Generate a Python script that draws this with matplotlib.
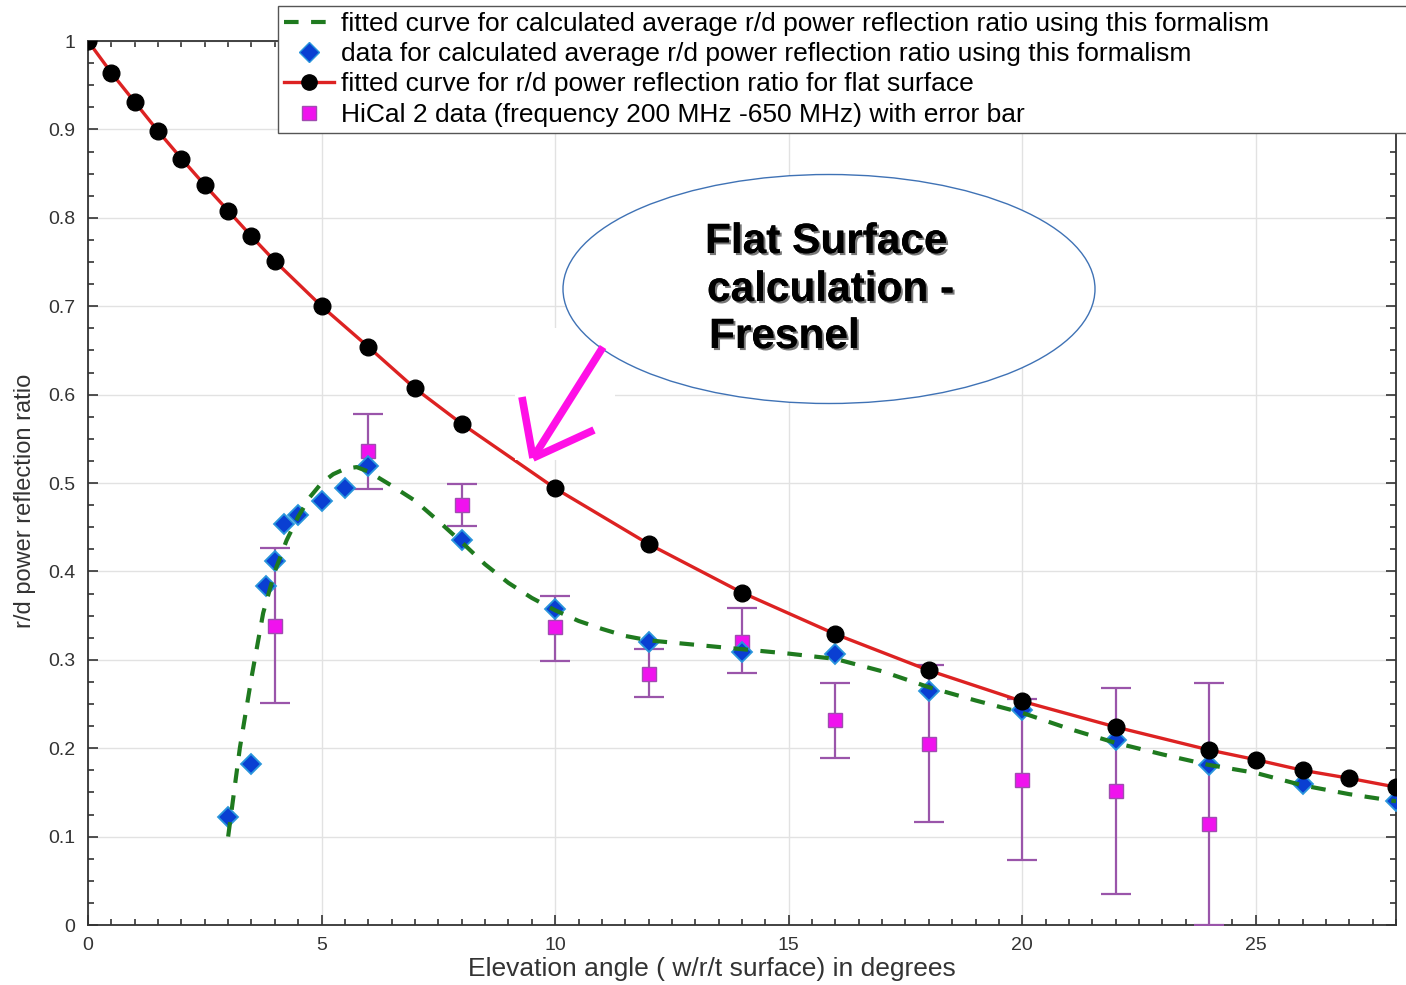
import matplotlib
matplotlib.use('Agg')
import matplotlib.pyplot as plt
import matplotlib.patheffects as pe
from matplotlib.patches import Ellipse, Rectangle
from matplotlib.lines import Line2D
from matplotlib.ticker import MultipleLocator

plt.rcParams['font.family'] = ['Liberation Sans', 'DejaVu Sans']

# ----- Data -----

# flat surface (Fresnel) curve, black points on red line
flat_x = [0, 0.5, 1, 1.5, 2, 2.5, 3, 3.5, 4, 5, 6, 7, 8, 10, 12, 14, 16, 18,
          20, 22, 24, 25, 26, 27, 28]
flat_y = [1.0, 0.964, 0.931, 0.898, 0.867, 0.837, 0.808, 0.779, 0.751, 0.700,
          0.654, 0.607, 0.567, 0.494, 0.431, 0.376, 0.329, 0.288, 0.253, 0.224,
          0.198, 0.187, 0.175, 0.166, 0.156]

# calculated average ratio (blue diamonds)
calc_x = [3.0, 3.5, 3.8, 4.0, 4.2, 4.5, 5.0, 5.5, 6.0, 8, 10, 12, 14, 16, 18,
          20, 22, 24, 26, 28]
calc_y = [0.122, 0.182, 0.383, 0.412, 0.454, 0.464, 0.480, 0.494, 0.519, 0.436,
          0.357, 0.320, 0.309, 0.306, 0.265, 0.243, 0.209, 0.181, 0.160, 0.140]

# fitted curve for the calculated ratio (green dashed)
fit_x = [3.0, 3.25, 3.5, 3.75, 4.0, 4.25, 4.5, 4.75, 5.0, 5.25, 5.5, 5.75, 6.0,
         6.5, 7.0, 7.5, 8.0, 8.5, 9.0, 9.5, 10.0, 10.5, 11.0, 11.5, 12.0, 13.0,
         14.0, 15.0, 16.0, 17.0, 18.0, 19.0, 20.0, 21.0, 22.0, 23.0, 24.0, 25.0,
         26.0, 27.0, 28.0]
fit_y = [0.100, 0.200, 0.280, 0.353, 0.400, 0.435, 0.462, 0.484, 0.500, 0.510,
         0.516, 0.518, 0.513, 0.497, 0.480, 0.457, 0.433, 0.408, 0.387, 0.370,
         0.356, 0.344, 0.335, 0.327, 0.322, 0.317, 0.312, 0.307, 0.301, 0.287,
         0.269, 0.254, 0.240, 0.222, 0.206, 0.193, 0.181, 0.172, 0.158, 0.148,
         0.140]

# HiCal 2 measurements with error bars
hical_x = [4, 6, 8, 10, 12, 14, 16, 18, 20, 22, 24]
hical_y = [0.338, 0.536, 0.475, 0.337, 0.284, 0.320, 0.232, 0.205, 0.164, 0.152, 0.114]
hical_hi = [0.426, 0.578, 0.499, 0.372, 0.312, 0.359, 0.274, 0.294, 0.256, 0.268, 0.274]
hical_lo = [0.251, 0.493, 0.451, 0.299, 0.258, 0.285, 0.189, 0.116, 0.074, 0.035, 0.0]

legend_labels = [
    'fitted curve for calculated average r/d power reflection ratio using this formalism',
    'data for calculated average r/d power reflection ratio using this formalism',
    'fitted curve for r/d power reflection ratio for flat surface',
    'HiCal 2 data (frequency 200 MHz -650 MHz) with error bar',
]

# ----- Figure -----

W, H = 1406, 985
fig = plt.figure(figsize=(W / 100, H / 100), dpi=100)
AX_L, AX_R, AX_T, AX_B = 88, 1396, 41, 925
ax = fig.add_axes([AX_L / W, 1 - AX_B / H, (AX_R - AX_L) / W, (AX_B - AX_T) / H])


def px(x, y):
    return x / W, 1 - y / H


ax.grid(True, color='#e2e2e2', lw=1.0, zorder=0)
ax.set_axisbelow(True)

# white patch from pasted arrow image hides the grid there
x0, y0 = px(515, 460)
x1, y1 = px(615, 328)
fig.add_artist(Rectangle((x0, y0), x1 - x0, y1 - y0, transform=fig.transFigure,
                         facecolor='white', edgecolor='none', zorder=1))

err_lo = [y - lo for y, lo in zip(hical_y, hical_lo)]
err_hi = [hi - y for y, hi in zip(hical_y, hical_hi)]
ax.errorbar(hical_x, hical_y, yerr=[err_lo, err_hi], fmt='none',
            ecolor='#9a55aa', elinewidth=1.6, capsize=10.5, capthick=1.6, zorder=3)
ax.plot(hical_x, hical_y, 's', ms=10, mfc='#f012ee', mec='#a04cb0', mew=1.0,
        zorder=4)

ax.plot(calc_x, calc_y, 'D', ms=10, mfc='#0a3fd2', mec='#2a96dc', mew=1.3,
        zorder=4)

ax.plot(fit_x, fit_y, '--', color='#1f7a1f', lw=3.0, dashes=(3.5, 3.0), zorder=5)

ax.plot(flat_x, flat_y, '-', color='#dd2222', lw=2.4, zorder=6)
ax.plot(flat_x, flat_y, 'o', ms=12, color='black', zorder=7)

ax.set_xlim(0, 28)
ax.set_ylim(0, 1)
ax.xaxis.set_major_locator(MultipleLocator(5))
ax.xaxis.set_minor_locator(MultipleLocator(0.5))
ax.yaxis.set_minor_locator(MultipleLocator(0.025))
ax.set_yticks([0, 0.1, 0.2, 0.3, 0.4, 0.5, 0.6, 0.7, 0.8, 0.9, 1.0])
ax.set_yticklabels(['0', '0.1', '0.2', '0.3', '0.4', '0.5', '0.6', '0.7',
                    '0.8', '0.9', '1'])
ax.tick_params(which='both', direction='in', top=True, right=True,
               colors='#333333', labelsize=14, width=1.2)
ax.tick_params(which='major', length=7, pad=9)
ax.tick_params(which='minor', length=4)
for s in ax.spines.values():
    s.set_color('#333333')
    s.set_linewidth(1.3)

ax.set_xlabel('Elevation angle ( w/r/t surface) in degrees', fontsize=19,
              color='#333333')
ax.xaxis.set_label_coords((712 - AX_L) / (AX_R - AX_L),
                          -(957 - AX_B) / (AX_B - AX_T))
ax.set_ylabel('r/d power reflection ratio', fontsize=17, color='#333333')
ax.yaxis.set_label_coords(-(AX_L - 36) / (AX_R - AX_L),
                          1 - (501 - AX_T) / (AX_B - AX_T))

handles = [
    Line2D([], [], ls='--', color='#1f7a1f', lw=3.0, dashes=(3.5, 3.0)),
    Line2D([], [], ls='none', marker='D', ms=10, mfc='#0a3fd2', mec='#2a96dc'),
    Line2D([], [], ls='-', color='#dd2222', lw=2.4, marker='o', ms=11,
           mfc='black', mec='black'),
    Line2D([], [], ls='none', marker='s', ms=10, mfc='#f012ee', mec='#a04cb0'),
]
# legend box runs past the right edge of the figure, as in the original
lx, ly = px(278, 131)
leg = fig.legend(handles, legend_labels, loc='upper left', mode='expand',
                 bbox_to_anchor=(lx, ly, (1440 - 278) / W, 125 / H),
                 bbox_transform=fig.transFigure, framealpha=1.0,
                 fontsize=19, frameon=True, fancybox=False, borderpad=0.22,
                 labelspacing=0.24, handlelength=1.9, handletextpad=0.25,
                 borderaxespad=0)
leg.get_frame().set_edgecolor('#555555')
leg.get_frame().set_linewidth(1.0)
leg.set_zorder(10)

# annotation ellipse with text
cx, cy = px(829, 289)
fig.add_artist(Ellipse((cx, cy), 532 / W, 229 / H, transform=fig.transFigure,
                       facecolor='white', edgecolor='#3f72b5', lw=1.0, zorder=8))
shadow = [pe.withSimplePatchShadow(offset=(1.5, -1.5), shadow_rgbFace='#555555',
                                   alpha=0.8), pe.Normal()]
for txt, xx, yy in [('Flat Surface', 705, 242), ('calculation -', 707, 290),
                    ('Fresnel', 709, 337)]:
    fig.text(*px(xx, yy), txt, fontsize=30.5, fontweight='bold', color='black',
             ha='left', va='center', zorder=9, path_effects=shadow)

# magenta arrow
arrow_kw = dict(color='#ff10e6', lw=5.5, solid_capstyle='butt',
                transform=fig.transFigure, zorder=9)
for (xa, ya), (xb, yb) in [((603, 347), (533, 458)),
                           ((522, 397), (533, 458)),
                           ((594, 430), (533, 458))]:
    fig.add_artist(Line2D([xa / W, xb / W], [1 - ya / H, 1 - yb / H], **arrow_kw))

plt.savefig('out.png', dpi=100)
